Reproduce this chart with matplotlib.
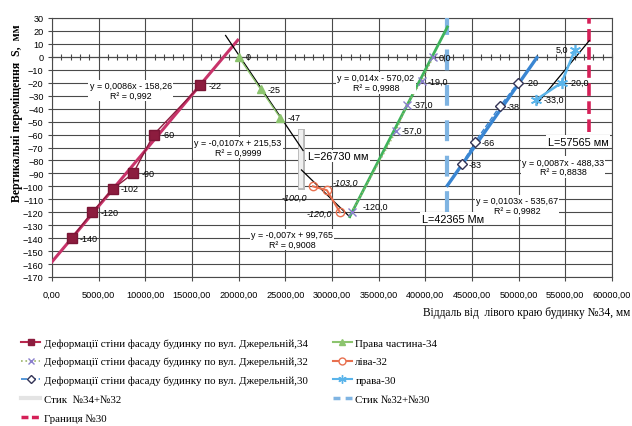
import matplotlib.pyplot as plt
import matplotlib.patheffects as pe
from matplotlib.ticker import MultipleLocator, FuncFormatter
from matplotlib.lines import Line2D

# вул. Джерельна,34 (ліва частина)
x34 = [2100, 4300, 6500, 8700, 10900, 15900]
y34 = [-140, -120, -102, -90, -60, -22]
lab34 = ['-140', '-120', '-102', '-90', '-60', '-22']
# права частина-34
x34r = [20000, 22350, 24450]
y34r = [0, -25, -47]
lab34r = ['0', '-25', '-47']
# вул. Джерельна,32
x32 = [32100, 36900, 38000, 39600, 40850]
y32 = [-120, -57, -37, -19, 0]
lab32 = ['-120,0', '-57,0', '-37,0', '-19,0', '0,0']
# ліва-32
x32l = [27950, 29450, 30850]
y32l = [-100, -103, -120]
lab32l = ['-100,0', '-103,0', '-120,0']
# вул. Джерельна,30
x30 = [43900, 45300, 48000, 49950]
y30 = [-83, -66, -38, -20]
lab30 = ['-83', '-66', '-38', '-20']
# права-30
x30r = [51900, 54600, 56000]
y30r = [-33, -20, 5]
lab30r = ['-33,0', '-20,0', '5,0']

stik1 = 26730
stik1_y = [-100, -58]
stik2 = 42365
stik2_y = [-120, 30]
border30 = 57565
border30_y = [-58, 30]

# linear trends: slope, intercept, x range, label
trends = [
    (0.0086, -158.26, (0, 19900), 'y = 0,0086x - 158,26\nR² = 0,992', '#c8336a', 2.2, (8460, -26)),
    (-0.0107, 215.53, (18600, 26900), 'y = -0,0107x + 215,53\nR² = 0,9999', 'black', 0.9, (19930, -70)),
    (-0.007, 99.765, (26730, 31950), 'y = -0,007x + 99,765\nR² = 0,9008', 'black', 0.9, (25710, -141)),
    (0.014, -570.02, (31900, 42365), 'y = 0,014x - 570,02\nR² = 0,9988', '#3fb35c', 2.0, (34710, -20)),
    (0.0103, -535.67, (42365, 51950), 'y = 0,0103x - 535,67\nR² = 0,9982', '#3a86d2', 2.4, (49820, -115)),
    (0.0087, -488.33, (51900, 57565), 'y = 0,0087x - 488,33\nR² = 0,8838', 'black', 0.9, (54750, -85)),
]

plt.rcParams['font.family'] = ['Liberation Sans', 'DejaVu Sans']
serif = ['Liberation Serif', 'DejaVu Serif']

fig = plt.figure(figsize=(6.32, 4.27), dpi=100)
ax = fig.add_axes([52/632, 1-278/427, 560/632, 259/427])
ax.set_xlim(0, 60000)
ax.set_ylim(-170, 30)
ax.xaxis.set_major_locator(MultipleLocator(5000))
ax.yaxis.set_major_locator(MultipleLocator(10))
ax.xaxis.set_major_formatter(FuncFormatter(lambda v, p: f'{v:.2f}'.replace('.', ',')))
ax.grid(True, color='#4a4a4a', lw=0.8)
ax.set_axisbelow(True)
for s in ax.spines.values():
    s.set_color('#4a4a4a')
ax.tick_params(labelsize=6.6, length=3, color='#4a4a4a', pad=3)
ax.tick_params(axis='x', pad=6)

# x-axis line at y = 0 with small ticks
ylo, yhi = ax.get_ylim()
sec = ax.secondary_xaxis((0 - ylo) / (yhi - ylo))
sec.xaxis.set_major_locator(MultipleLocator(1000))
sec.tick_params(direction='inout', length=4, color='#4a4a4a', labelbottom=False, labeltop=False)
sec.spines['bottom'].set_color('#4a4a4a')

bb = dict(facecolor='white', edgecolor='none', pad=1.0)

# stik / border lines
ax.plot([stik1, stik1], stik1_y, color='#efefef', lw=3, zorder=3,
        path_effects=[pe.Stroke(linewidth=5, foreground='#b8b8b8'), pe.Normal()])
ax.plot([stik2, stik2], stik2_y, color='#7fb4e2', lw=3, dashes=(5, 3.5), zorder=3)
ax.plot([border30, border30], border30_y, color='#d52058', lw=2.6, dashes=(3.5, 1.5), zorder=3)

# series
ax.plot(x34, y34, color='#8c1c3e', lw=1.0, marker='s', ms=7.5, mfc='#8c1c3e', mec='#7a1535', zorder=5)
ax.plot(x34r, y34r, color='#8cc46e', lw=1.0, marker='^', ms=6, mfc='#8cc46e', mec='#8cc46e', zorder=5)
ax.plot(x32, y32, color='#9bb36a', lw=1.0, ls=':', marker='x', ms=6, mec='#8a7fcc', mew=1.0, zorder=5)
ax.plot(x32l, y32l, color='#e8704f', lw=1.5, marker='o', ms=6, mfc='none', mec='#e8704f', zorder=5)
ax.plot(x30, y30, color='#3a86d2', lw=1.0, ls='--', marker='D', ms=5, mfc='white', mec='#333355', zorder=5)
ax.plot(x30r, y30r, color='#5ab4ea', lw=1.8, marker=(6, 2, 0), ms=8, mec='#5ab4ea', mew=1.2, zorder=5)

for k, b, (xa, xb), txt, col, lw, pos in trends:
    ax.plot([xa, xb], [k * xa + b, k * xb + b], color=col, lw=lw, zorder=4)
    ax.text(pos[0], pos[1], txt, fontsize=6.4, ha='center', va='center', linespacing=1.1,
            bbox=bb, zorder=6)

fs = 6.5
for x, y, t in zip(x34, y34, lab34):
    ax.annotate(t, (x, y), xytext=(6, 0), textcoords='offset points', fontsize=fs, va='center', zorder=7)
for x, y, t in zip(x34r, y34r, lab34r):
    ax.annotate(t, (x, y), xytext=(5, 0), textcoords='offset points', fontsize=fs, va='center', zorder=7)
for x, y, t in zip(x32, y32, lab32):
    off = (8, 4) if y == -120 else (4, 0)
    ax.annotate(t, (x, y), xytext=off, textcoords='offset points', fontsize=fs, va='center', zorder=7)
offs = [((-4, -8), 'right'), ((4, 6), 'left'), ((-6, -1), 'right')]
for (x, y, t), (off, ha) in zip(zip(x32l, y32l, lab32l), offs):
    ax.annotate(t, (x, y), xytext=off, textcoords='offset points', fontsize=fs, style='italic',
                ha=ha, va='center', zorder=7)
for x, y, t in zip(x30, y30, lab30):
    ax.annotate(t, (x, y), xytext=(5, 0), textcoords='offset points', fontsize=fs, va='center', zorder=7)
offs = [((5, 0), 'left'), ((5, 0), 'left'), ((-5, 1), 'right')]
for (x, y, t), (off, ha) in zip(zip(x30r, y30r, lab30r), offs):
    ax.annotate(t, (x, y), xytext=off, textcoords='offset points', fontsize=fs, ha=ha, va='center', zorder=7)

ax.text(30640, -76.5, 'L=26730 мм', fontsize=7.8, ha='center', va='center', bbox=bb, zorder=6)
ax.text(42960, -125, 'L=42365 Мм', fontsize=7.8, ha='center', va='center', bbox=bb, zorder=6)
ax.text(56360, -65.5, 'L=57565 мм', fontsize=7.8, ha='center', va='center', bbox=bb, zorder=6)

fig.text(17/632, 1-113/427, 'Вертикальні переміщення  S,  мм', rotation=90, ha='center', va='center',
         fontsize=8.5, fontweight='bold', family=serif)
fig.text(630/632, 1-313/427, 'Віддаль від  лівого краю будинку №34, мм', ha='right', va='center',
         fontsize=8.3, family=serif)

name = 'Деформації стіни фасаду будинку по вул. Джерельній,'
handles = [
    Line2D([], [], color='#b8284e', lw=1.5, marker='s', ms=5, mfc='#8c1c3e', mec='#8c1c3e'),
    Line2D([], [], color='#9bb36a', lw=1.2, ls=':', marker='x', ms=5, mec='#8a7fcc'),
    Line2D([], [], color='#3a86d2', lw=1.2, ls='--', marker='D', ms=4, mfc='white', mec='#333355'),
    Line2D([], [], color='#e4e4e4', lw=3),
    Line2D([], [], color='#d52058', lw=2.5, dashes=(2, 1)),
    Line2D([], [], color='#8cc46e', lw=1.5, marker='^', ms=5),
    Line2D([], [], color='#e8704f', lw=1.5, marker='o', ms=5, mfc='white'),
    Line2D([], [], color='#5ab4ea', lw=1.5, marker=(6, 2, 0), ms=6),
    Line2D([], [], color='#7fb4e2', lw=2.5, dashes=(2, 1.5)),
]
labels = [name + '34', name + '32', name + '30', 'Стик  №34+№32', 'Границя №30',
          'Права частина-34', 'ліва-32', 'права-30', 'Стик №32+№30']
fig.legend(handles, labels, loc='upper left', bbox_to_anchor=(21/632, 1-339/427), ncol=2,
           frameon=False, prop={'family': serif, 'size': 7.8}, handlelength=1.8, handletextpad=0.3,
           labelspacing=0.85, columnspacing=2.3, borderpad=0, borderaxespad=0)

fig.savefig('out.png', dpi=100)
